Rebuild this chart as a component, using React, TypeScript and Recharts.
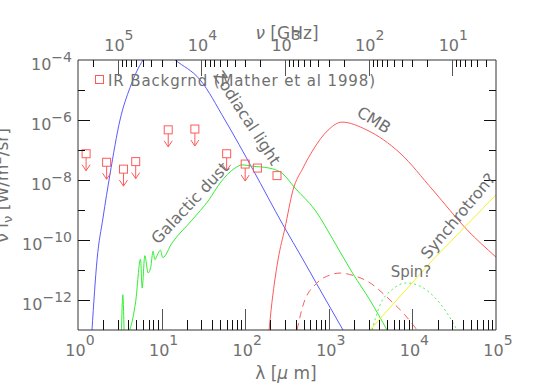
import React from "react"
import { ComposedChart, Line, Scatter, XAxis, YAxis } from "recharts"

// wavelength in micron, nu*I_nu in W/m^2/sr

const zodiLambda = [1.47, 1.69, 1.99, 2.41, 3.18, 4.19, 6.0, 9.3, 14.5, 28.8, 57.3, 124, 283, 493, 785, 1479]
const zodiFlux = [1e-13, 2.2e-11, 5.4e-10, 1.5e-8, 1e-6, 1.2e-5, 1e-4, 2.7e-4, 1e-4, 2.2e-5, 1e-6, 2.2e-8, 3.2e-10, 2.2e-11, 2.2e-12, 1e-13]

const dustLambda = [
  3.3, 3.44, 3.6, 4.15, 4.9, 5.6, 5.85, 6.3, 6.9, 7.4, 7.9, 8.3, 8.9, 9.7, 10.3, 13.3, 23.1, 36.9, 50, 75.5, 91.6, 120,
  193, 275, 394, 684, 1186, 1950, 3100, 4970,
]
const dustFlux = [
  6e-14, 1.5e-12, 6e-14, 1e-13, 9e-13, 2.3e-11, 2.5e-12, 3e-11, 8e-12, 1.2e-11, 4.2e-11, 2.2e-11, 3.2e-11, 4.6e-11,
  2.6e-11, 7.9e-11, 4.6e-10, 2.2e-9, 7.9e-9, 2.5e-8, 3.2e-8, 2.9e-8, 2.5e-8, 1.7e-8, 5.4e-9, 1e-9, 7.9e-11, 7.4e-12,
  1e-12, 1e-13,
]

const cmbLambda = [193, 204, 247, 299, 373, 491, 647, 980, 1438, 2864, 7110, 17600, 45000, 100000]
const cmbFlux = [
  1e-13, 4.6e-13, 2.2e-11, 2.5e-10, 4.6e-9, 2.5e-8, 1e-7, 4.6e-7, 8.5e-7, 4.6e-7, 7.9e-8, 4.6e-9, 2.2e-10, 2.7e-11,
]

const anisoLambda = [417, 493, 722, 1033, 1361, 2058, 2864, 5400, 8130, 11350]
const anisoFlux = [1e-13, 6.8e-13, 3.7e-12, 6.8e-12, 7.9e-12, 6.3e-12, 4.3e-12, 1e-12, 3.2e-13, 1e-13]

const spinLambda = [3290, 4100, 5700, 8610, 12300, 18600, 25900, 34200]
const spinFlux = [1e-13, 6.8e-13, 2.2e-12, 3.7e-12, 2.9e-12, 1.2e-12, 3.7e-13, 1e-13]

const syncLambda = [3100, 17600, 100000]
const syncFlux = [1e-13, 2.2e-11, 3.2e-9]

// IR background, Mather et al 1998
const irLambda = [1.25, 2.2, 3.5, 4.9, 12, 25, 60, 100, 140, 240]
const irFlux = [7.5e-8, 3.9e-8, 2.3e-8, 4.1e-8, 4.7e-7, 5.0e-7, 7.5e-8, 3.4e-8, 2.5e-8, 1.4e-8]
const irUpperLimit = [true, true, true, true, true, true, true, true, false, false]

// ticks
const lambdaDecades = [1, 10, 100, 1000, 10000, 100000]
const nuDecadesGHz = [1e5, 1e4, 1e3, 1e2, 10, 1]
const minorSteps = [2, 3, 4, 5, 6, 7, 8, 9]
const fluxDecades = [1e-13, 1e-12, 1e-11, 1e-10, 1e-9, 1e-8, 1e-7, 1e-6, 1e-5, 1e-4]

const LAMBDA_NU = 3e5 // micron * GHz

const pts = (xs: number[], ys: number[]) => xs.map((x, i) => ({ x, y: ys[i] }))

const lambdaTicks = lambdaDecades.flatMap((d) => (d < 1e5 ? [d, ...minorSteps.map((m) => m * d)] : [d]))
const nuTicks = nuDecadesGHz
  .flatMap((d) => [d, ...minorSteps.map((m) => m * d)])
  .filter((nu) => nu <= LAMBDA_NU && nu >= LAMBDA_NU / 1e5)
  .map((nu) => LAMBDA_NU / nu)
  .sort((a, b) => a - b)

const TEXT = "#707070"
const FONT = "DejaVu Sans, sans-serif"
const IR_COLOR = "#ff5a5a"
const TICK_MINOR = "#111"
const TICK_MAJOR = "#555"

const expOf = (v: number) => {
  const l = Math.log10(v)
  const e = Math.round(l)
  return { e, major: Math.abs(l - e) < 1e-6 }
}

const fmtExp = (e: number) => String(e).replace("-", "\u2212")
const crisp = (v: number) => Math.round(v) + 0.5

const BottomTick = (props: any) => {
  const x = Number(props.x)
  const y = Number(props.y)
  const v = props.payload.value
  const { e, major } = expOf(v)
  const edge = v <= 1 || v >= 1e5
  const len = major ? 21 : 10
  return (
    <g>
      {!edge && (
        <line x1={crisp(x)} x2={crisp(x)} y1={y} y2={y - len} stroke={major ? TICK_MAJOR : TICK_MINOR} strokeWidth={1} />
      )}
      {major && (
        <text x={x + 2} y={y + 26} textAnchor="middle" fill={TEXT} fontSize={16} fontFamily={FONT}>
          10
          <tspan dy={-11} fontSize={14}>
            {fmtExp(e)}
          </tspan>
        </text>
      )}
    </g>
  )
}

const TopTick = (props: any) => {
  const x = Number(props.x)
  const y = Number(props.y)
  const v = props.payload.value
  const { e, major } = expOf(LAMBDA_NU / v)
  const edge = v <= 1 || v >= 1e5
  const len = major ? 16 : 7
  return (
    <g>
      {!edge && (
        <line x1={crisp(x)} x2={crisp(x)} y1={y} y2={y + len} stroke={major ? TICK_MAJOR : TICK_MINOR} strokeWidth={1} />
      )}
      {major && (
        <text x={x + 1} y={y - 9} textAnchor="middle" fill={TEXT} fontSize={16} fontFamily={FONT}>
          10
          <tspan dy={-11} fontSize={14}>
            {fmtExp(e)}
          </tspan>
        </text>
      )}
    </g>
  )
}

const LeftTick = (props: any) => {
  const x = Number(props.x)
  const y = Number(props.y)
  const v = props.payload.value
  const { e } = expOf(v)
  const labelled = e % 2 === 0
  if (v <= 1e-13) return null
  return (
    <g>
      {v < 1e-4 && (
        <line x1={x} x2={x + (labelled ? 12 : 7)} y1={crisp(y)} y2={crisp(y)} stroke={TICK_MINOR} strokeWidth={1} />
      )}
      {labelled && (
        <text x={x - 6} y={y + 10} textAnchor="end" fill={TEXT} fontSize={16} fontFamily={FONT}>
          10
          <tspan dy={-8} fontSize={14}>
            {fmtExp(e)}
          </tspan>
        </text>
      )}
    </g>
  )
}

const RightTick = (props: any) => {
  const x = Number(props.x)
  const y = Number(props.y)
  const v = props.payload.value
  const { e } = expOf(v)
  if (v <= 1e-13 || v >= 1e-4) return null
  return (
    <g>
      <line x1={x} x2={x - (e % 2 === 0 ? 12 : 7)} y1={crisp(y)} y2={crisp(y)} stroke={TICK_MINOR} strokeWidth={1} />
    </g>
  )
}

const IrMarker = (props: any) => {
  const { cx, cy, payload } = props
  if (cx == null || cy == null) return null
  return (
    <g stroke={IR_COLOR} fill="none" strokeWidth={1}>
      <rect x={cx - 4} y={cy - 4} width={8} height={8} />
      {payload.limit && (
        <>
          <line x1={cx} y1={cy + 4} x2={cx} y2={cy + 17} />
          <polyline points={`${cx - 4},${cy + 11} ${cx},${cy + 17} ${cx + 4},${cy + 11}`} />
        </>
      )}
    </g>
  )
}

export default function App() {
  const irData = irLambda.map((x, i) => ({ x, y: irFlux[i], limit: irUpperLimit[i] }))
  const labelStyle = { fill: TEXT, fontSize: 16, fontFamily: FONT }

  return (
    <div style={{ position: "absolute", left: 0, top: 0, width: 545, height: 389, background: "#fff" }}>
      <ComposedChart width={545} height={389} margin={{ top: 59, right: 48, bottom: 58, left: 77 }}>
        <XAxis
          dataKey="x"
          type="number"
          scale="log"
          domain={[1, 1e5]}
          allowDataOverflow
          ticks={lambdaTicks}
          interval={0}
          height={1}
          tickSize={0}
          tickMargin={0}
          tickLine={false}
          stroke="#333"
          tick={<BottomTick />}
        />
        <XAxis
          xAxisId="top"
          orientation="top"
          dataKey="x"
          type="number"
          scale="log"
          domain={[1, 1e5]}
          ticks={nuTicks}
          interval={0}
          height={1}
          tickSize={0}
          tickMargin={0}
          tickLine={false}
          stroke="#333"
          tick={<TopTick />}
        />
        <YAxis
          dataKey="y"
          type="number"
          scale="log"
          domain={[1e-13, 1e-4]}
          allowDataOverflow
          ticks={fluxDecades}
          interval={0}
          width={1}
          tickSize={0}
          tickMargin={0}
          tickLine={false}
          stroke="#333"
          tick={<LeftTick />}
        />
        <YAxis
          yAxisId="right"
          orientation="right"
          dataKey="y"
          type="number"
          scale="log"
          domain={[1e-13, 1e-4]}
          allowDataOverflow
          ticks={fluxDecades}
          interval={0}
          width={1}
          tickSize={0}
          tickMargin={0}
          tickLine={false}
          stroke="#333"
          tick={<RightTick />}
        />
        <Line data={pts(zodiLambda, zodiFlux)} dataKey="y" type="monotone" stroke="#5a5aff" strokeWidth={1} dot={false} isAnimationActive={false} />
        <Line data={pts(dustLambda, dustFlux)} dataKey="y" type="monotone" stroke="#33ee33" strokeWidth={1} dot={false} isAnimationActive={false} />
        <Line data={pts(cmbLambda, cmbFlux)} dataKey="y" type="monotone" stroke="#ff5a5a" strokeWidth={1} dot={false} isAnimationActive={false} />
        <Line
          data={pts(anisoLambda, anisoFlux)}
          dataKey="y"
          type="monotone"
          stroke="#ff5a5a"
          strokeWidth={1}
          strokeDasharray="7 5"
          dot={false}
          isAnimationActive={false}
        />
        <Line
          data={pts(spinLambda, spinFlux)}
          dataKey="y"
          type="monotone"
          stroke="#55ee55"
          strokeWidth={1}
          strokeDasharray="2 3"
          dot={false}
          isAnimationActive={false}
        />
        <Line
          data={pts(syncLambda, syncFlux)}
          xAxisId="top"
          yAxisId="right"
          dataKey="y"
          type="linear"
          stroke="#f2f22a"
          strokeWidth={1}
          dot={false}
          isAnimationActive={false}
        />
        <Scatter data={irData} dataKey="y" shape={<IrMarker />} isAnimationActive={false} />
      </ComposedChart>

      <svg
        width={545}
        height={389}
        style={{ position: "absolute", left: 0, top: 0, pointerEvents: "none" }}
        fontFamily={FONT}
      >
        {/* legend */}
        <rect x={95.5} y={75.5} width={8} height={8} fill="none" stroke={IR_COLOR} />
        <text x={108} y={86} {...labelStyle} fontSize={15} textLength={267}>
          IR Backgrnd (Mather et al 1998)
        </text>

        {/* curve labels */}
        <text x={247} y={118} transform="rotate(57 247 118)" textAnchor="middle" dominantBaseline="central" {...labelStyle}>
          Zodiacal light
        </text>
        <text x={190} y={203} transform="rotate(-47 190 203)" textAnchor="middle" dominantBaseline="central" {...labelStyle}>
          Galactic dust
        </text>
        <text x={374} y={120} transform="rotate(32 374 120)" textAnchor="middle" dominantBaseline="central" {...labelStyle}>
          CMB
        </text>
        <text x={458} y={216} transform="rotate(-50 458 216)" textAnchor="middle" dominantBaseline="central" {...labelStyle}>
          Synchrotron?
        </text>
        <text x={411} y={272} textAnchor="middle" dominantBaseline="central" {...labelStyle} fontSize={15}>
          Spin?
        </text>

        {/* axis titles */}
        <text x={286} y={379} textAnchor="middle" {...labelStyle} fontSize={17}>
          λ [<tspan fontStyle="italic">μ</tspan> m]
        </text>
        <text x={287} y={39} textAnchor="middle" {...labelStyle} fontSize={17}>
          <tspan fontStyle="italic">ν</tspan> [GHz]
        </text>
        <text x={8} y={128} transform="rotate(-90 8 128)" textAnchor="end" {...labelStyle} fontSize={17}>
          ν I
          <tspan dy={4} fontSize={13}>
            ν
          </tspan>
          <tspan dy={-4}> [W/m</tspan>
          <tspan dy={-7} fontSize={13}>
            2
          </tspan>
          <tspan dy={7}>/sr]</tspan>
        </text>
      </svg>
    </div>
  )
}
